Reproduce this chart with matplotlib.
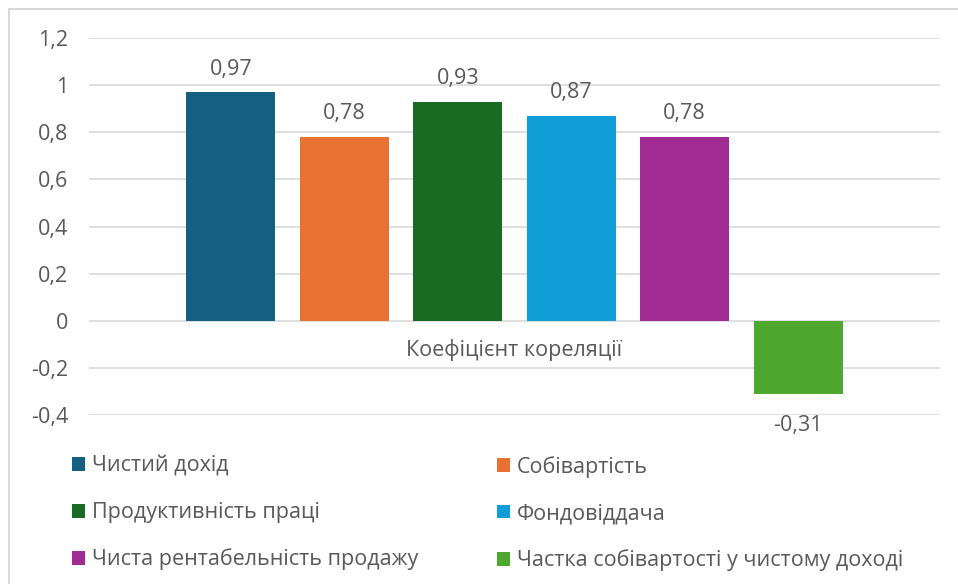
import matplotlib.pyplot as plt
from matplotlib.patches import Patch, Rectangle

plt.rcParams['font.family'] = ['Open Sans', 'DejaVu Sans']

series = ['Чистий дохід', 'Собівартість', 'Продуктивність праці',
          'Фондовіддача', 'Чиста рентабельність продажу',
          'Частка собівартості у чистому доході']
values = [0.97, 0.78, 0.93, 0.87, 0.78, -0.31]
labels = ['0,97', '0,78', '0,93', '0,87', '0,78', '-0,31']
colors = ['#156082', '#E97132', '#196B24', '#0F9ED5', '#A02B93', '#4EA72E']
category = 'Коефіцієнт кореляції'
yticks = [-0.4, -0.2, 0, 0.2, 0.4, 0.6, 0.8, 1, 1.2]
ytick_labels = ['-0,4', '-0,2', '0', '0,2', '0,4', '0,6', '0,8', '1', '1,2']

text_color = '#595959'
fs = 15.5
W, H = 958, 584

fig = plt.figure(figsize=(W / 100, H / 100), dpi=100)
# chart frame (cropped on the right and bottom)
fig.patches.append(Rectangle((9 / W, -0.1), 1.2, 1 - 9 / H + 0.1,
                             transform=fig.transFigure, fill=False,
                             edgecolor='#D9D9D9', linewidth=1.5))

ax = fig.add_axes([89 / W, 1 - 415 / H, 851 / W, 377 / H])

n = len(values)
pos = [(i - (n - 1) / 2) for i in range(n)]
bars = ax.bar(pos, values, width=0.785, color=colors, zorder=3)
for b, v, lab in zip(bars, values, labels):
    up = v >= 0
    ax.annotate(lab, (b.get_x() + b.get_width() / 2, v),
                xytext=(0, 9 if up else -15), textcoords='offset points',
                ha='center', va='bottom' if up else 'top',
                fontsize=fs, color=text_color)

ax.set_xlim(-3.75, 3.75)
ax.set_ylim(-0.4, 1.2)
ax.set_yticks(yticks)
ax.set_yticklabels(ytick_labels, fontsize=fs, color=text_color)
ax.yaxis.grid(True, color='#D9D9D9', linewidth=1.2, zorder=0)
ax.tick_params(axis='y', length=0, pad=15)

# category label sits next to the zero line
ax.spines['bottom'].set_position(('data', 0))
ax.set_xticks([0])
ax.set_xticklabels([category], fontsize=fs, color=text_color)
ax.tick_params(axis='x', length=0, pad=13)
for s in ax.spines.values():
    s.set_visible(False)

handles = [Patch(facecolor=c) for c in colors]
leg_kw = dict(frameon=False, fontsize=fs, labelcolor=text_color,
              handlelength=0.62, handleheight=0.62, handletextpad=0.3,
              labelspacing=1.17, borderpad=0, borderaxespad=0)
leg1 = fig.legend(handles[0::2], series[0::2], loc='upper left',
                  bbox_to_anchor=(72 / W, 1 - 456 / H), **leg_kw)
leg2 = fig.legend(handles[1::2], series[1::2], loc='upper left',
                  bbox_to_anchor=(497 / W, 1 - 456 / H), **leg_kw)

fig.savefig('out.png', dpi=100)
